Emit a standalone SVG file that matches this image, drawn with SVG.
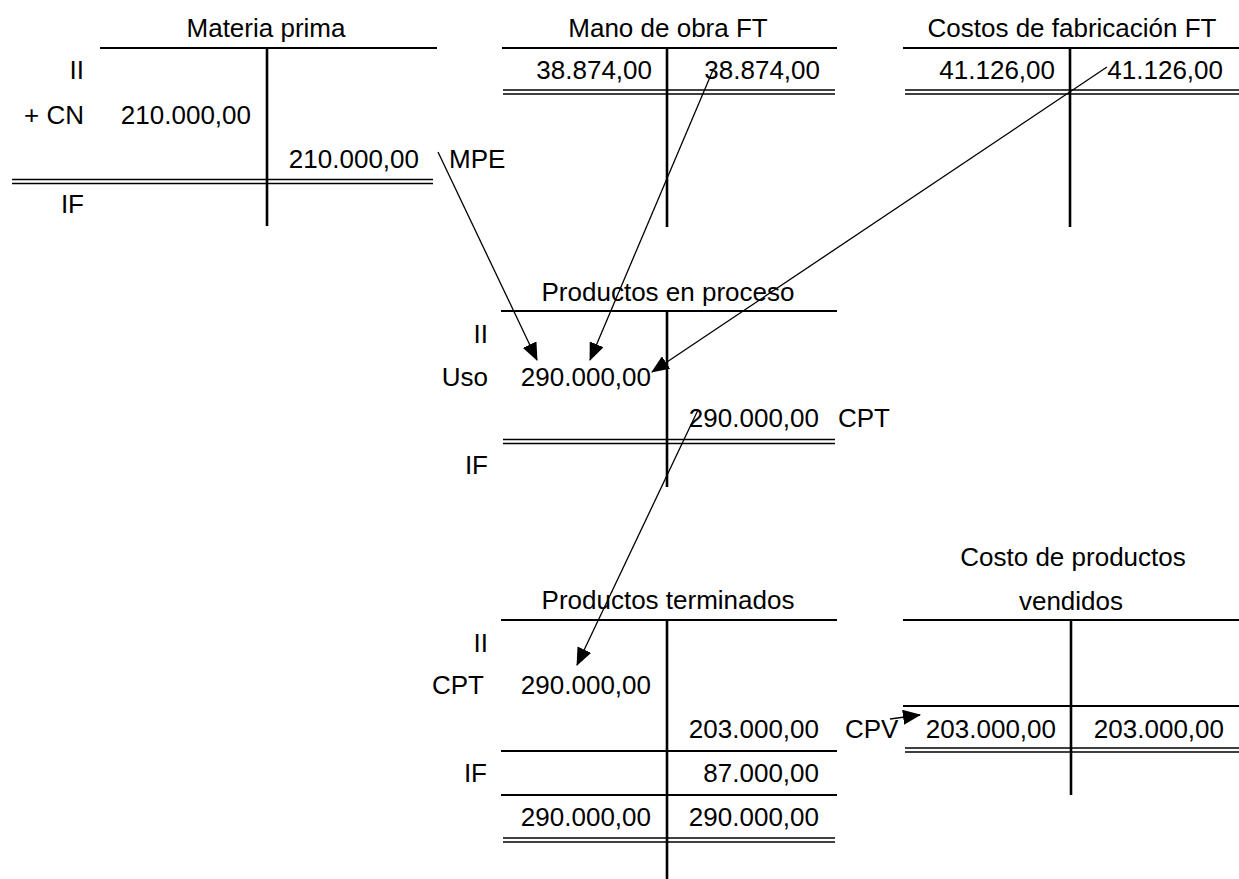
<svg xmlns="http://www.w3.org/2000/svg" width="1239" height="879" viewBox="0 0 1239 879">
<style>
text{font-family:"Liberation Sans",Arial,sans-serif;font-size:26px;fill:#000}
.r{text-anchor:end}
.m{text-anchor:middle}
.h{stroke:#000;stroke-width:2.2;fill:none}
.v{stroke:#000;stroke-width:2.6;fill:none}
.d{stroke:#000;stroke-width:1.6;fill:none}
.c{stroke:#000;stroke-width:1.3;fill:none;marker-end:url(#ah)}
</style>
<defs>
<marker id="ah" viewBox="0 0 18 15" refX="17" refY="7.5" markerWidth="18" markerHeight="15" markerUnits="userSpaceOnUse" orient="auto">
<path d="M0,0 L18,7.5 L0,15 z" fill="#000"/>
</marker>
</defs>
<rect width="1239" height="879" fill="#fff"/>

<g id="materia-prima">
<text class="m" x="266" y="37">Materia prima</text>
<line class="h" x1="100" y1="48" x2="437" y2="48"/>
<line class="v" x1="267" y1="48" x2="267" y2="226"/>
<line class="d" x1="12" y1="179.5" x2="433" y2="179.5"/>
<line class="d" x1="12" y1="183.5" x2="433" y2="183.5"/>
<text class="r" x="84" y="79">II</text>
<text class="r" x="84" y="124">+ CN</text>
<text class="r" x="251" y="124">210.000,00</text>
<text class="r" x="419" y="168">210.000,00</text>
<text x="449" y="168">MPE</text>
<text class="r" x="84" y="213">IF</text>
</g>

<g id="mano-de-obra">
<text class="m" x="668" y="37">Mano de obra FT</text>
<line class="h" x1="502" y1="48" x2="837" y2="48"/>
<line class="v" x1="667" y1="48" x2="667" y2="227"/>
<line class="d" x1="503" y1="90" x2="835" y2="90"/>
<line class="d" x1="503" y1="94" x2="835" y2="94"/>
<text class="r" x="652" y="79">38.874,00</text>
<text class="r" x="820" y="79">38.874,00</text>
</g>

<g id="costos-fabricacion">
<text class="m" x="1072" y="37">Costos de fabricación FT</text>
<line class="h" x1="903" y1="48" x2="1239" y2="48"/>
<line class="v" x1="1070" y1="48" x2="1070" y2="227"/>
<line class="d" x1="905" y1="90" x2="1239" y2="90"/>
<line class="d" x1="905" y1="94" x2="1239" y2="94"/>
<text class="r" x="1055" y="79">41.126,00</text>
<text class="r" x="1223" y="79">41.126,00</text>
</g>

<g id="productos-proceso">
<text class="m" x="668" y="301">Productos en proceso</text>
<line class="h" x1="501" y1="311" x2="837" y2="311"/>
<line class="v" x1="667" y1="311" x2="667" y2="487"/>
<line class="d" x1="503" y1="439.5" x2="835" y2="439.5"/>
<line class="d" x1="503" y1="443.5" x2="835" y2="443.5"/>
<text class="r" x="488" y="343">II</text>
<text class="r" x="488" y="386">Uso</text>
<text class="r" x="651" y="386">290.000,00</text>
<text class="r" x="819" y="427">290.000,00</text>
<text x="838" y="427">CPT</text>
<text class="r" x="488" y="474">IF</text>
</g>

<g id="productos-terminados">
<text class="m" x="668" y="609">Productos terminados</text>
<line class="h" x1="501" y1="620" x2="837" y2="620"/>
<line class="v" x1="667" y1="620" x2="667" y2="879"/>
<line class="h" x1="501" y1="751" x2="837" y2="751"/>
<line class="h" x1="501" y1="795" x2="837" y2="795"/>
<line class="d" x1="503" y1="838" x2="835" y2="838"/>
<line class="d" x1="503" y1="842" x2="835" y2="842"/>
<text class="r" x="488" y="652">II</text>
<text class="r" x="484" y="694">CPT</text>
<text class="r" x="651" y="694">290.000,00</text>
<text class="r" x="819" y="738">203.000,00</text>
<text x="845" y="738">CPV</text>
<text class="r" x="487" y="782">IF</text>
<text class="r" x="819" y="782">87.000,00</text>
<text class="r" x="651" y="826">290.000,00</text>
<text class="r" x="819" y="826">290.000,00</text>
</g>

<g id="costo-productos-vendidos">
<text class="m" x="1073" y="566">Costo de productos</text>
<text class="m" x="1071" y="610">vendidos</text>
<line class="h" x1="903" y1="620" x2="1239" y2="620"/>
<line class="v" x1="1071" y1="620" x2="1071" y2="795"/>
<line class="h" x1="903" y1="706" x2="1239" y2="706"/>
<line class="d" x1="905" y1="748" x2="1239" y2="748"/>
<line class="d" x1="905" y1="752" x2="1239" y2="752"/>
<text class="r" x="1056" y="738">203.000,00</text>
<text class="r" x="1224" y="738">203.000,00</text>
</g>

<g id="connectors">
<line class="c" x1="438" y1="152" x2="537" y2="360"/>
<line class="c" x1="713" y1="70" x2="590" y2="360"/>
<line class="c" x1="1107" y1="67" x2="652" y2="372"/>
<line class="c" x1="698" y1="410" x2="577" y2="665"/>
<line class="c" x1="890" y1="719" x2="920" y2="715"/>
</g>
</svg>
